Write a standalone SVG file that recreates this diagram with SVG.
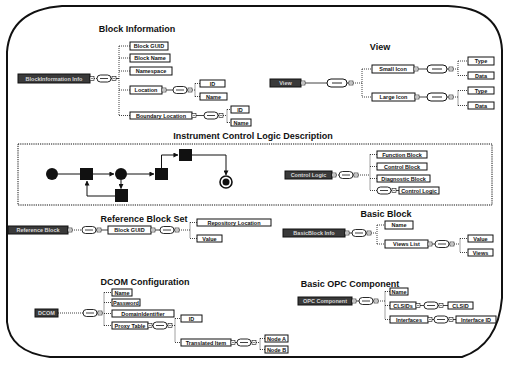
<svg xmlns="http://www.w3.org/2000/svg" xmlns:xlink="http://www.w3.org/1999/xlink" width="505" height="368" viewBox="0 0 505 368">
<style>
.bx{fill:#fff;stroke:#111;stroke-width:1}
.rb{fill:#3a3a3a;stroke:#111;stroke-width:1}
.t{font-family:"Liberation Sans",Arial,sans-serif;font-weight:bold;font-size:5.5px;text-anchor:middle;fill:#111}
.rt{font-family:"Liberation Sans",Arial,sans-serif;font-weight:bold;font-size:5.5px;text-anchor:middle;fill:#d8d8d8}
.h{font-family:"Liberation Sans",Arial,sans-serif;font-weight:bold;font-size:9px;text-anchor:middle;fill:#111}
.c{stroke:#111;stroke-width:.8;fill:none}
.d{stroke:#111;stroke-width:.8;fill:none;stroke-dasharray:1 1}
.fl{stroke:#111;stroke-width:1;fill:none}
.n{fill:#111}
</style>
<defs>
<marker id="ar" viewBox="0 0 6 6" refX="5.5" refY="3" markerWidth="5" markerHeight="5" orient="auto">
<path d="M0 0 L6 3 L0 6 Z" fill="#111"/>
</marker>
<g id="seq">
<rect x="-7" y="-3.5" width="14" height="7" rx="3.5" fill="#fff" stroke="#111" stroke-width=".9"/>
<line x1="-4" y1="0" x2="4" y2="0" stroke="#111" stroke-width=".8"/>
<line x1="7" y1="0" x2="8" y2="0" stroke="#111" stroke-width=".8"/>
<rect x="8" y="-2" width="4" height="4" fill="#fff" stroke="#111" stroke-width=".6"/>
<line x1="9" y1="0" x2="11" y2="0" stroke="#111" stroke-width=".5"/>
</g>
<g id="seqL">
<rect x="-10" y="-4" width="20" height="8" rx="4" fill="#fff" stroke="#111" stroke-width="1"/>
<line x1="-5" y1="0" x2="5" y2="0" stroke="#111" stroke-width=".9"/>
<line x1="10" y1="0" x2="12" y2="0" stroke="#111" stroke-width=".8"/>
<rect x="12" y="-2" width="4" height="4" fill="#fff" stroke="#111" stroke-width=".6"/>
<line x1="13" y1="0" x2="15" y2="0" stroke="#111" stroke-width=".5"/>
</g>
<g id="ex">
<rect x="0" y="-2" width="4" height="4" fill="#fff" stroke="#111" stroke-width=".6"/>
<line x1="1" y1="0" x2="3" y2="0" stroke="#111" stroke-width=".5"/>
</g>
</defs>

<rect width="505" height="368" fill="#fff"/>
<path d="M62 6 L448 6 Q500 8 502 50 L502 298 Q498 345 462 357 L50 357 Q10 352 7 322 L7 52 Q10 10 62 6 Z" fill="none" stroke="#111" stroke-width="2"/>

<g id="connectors">
<line class="d" x1="94" y1="78.5" x2="97" y2="78.5"/>
<line class="c" x1="116" y1="78.5" x2="119" y2="78.5"/>
<path class="d" d="M119 46 V115.5 M119 46 H130 M119 58 H130 M119 71 H130 M119 90 H130 M119 115.5 H130"/>
<line class="c" x1="166" y1="90" x2="173" y2="90"/>
<path class="d" d="M192 90 H195 M195 83.5 V96.5 M195 83.5 H200 M195 96.5 H200"/>
<line class="c" x1="196" y1="115.5" x2="204" y2="115.5"/>
<path class="d" d="M223 115.5 H227 M227 109.5 V122.5 M227 109.5 H231 M227 122.5 H231"/>
<line class="c" x1="305" y1="83" x2="327" y2="83"/>
<path class="d" d="M353 83 H362 M362 69 V97 M362 69 H372 M362 97 H372"/>
<line class="c" x1="418" y1="69" x2="427" y2="69"/>
<path class="d" d="M453 69 H458 M458 61 V75.5 M458 61 H468 M458 75.5 H468"/>
<line class="c" x1="419" y1="97" x2="427" y2="97"/>
<path class="d" d="M453 97 H458 M458 90.5 V105.5 M458 90.5 H468 M458 105.5 H468"/>
<line class="fl" x1="58" y1="174" x2="80" y2="174"/>
<line class="fl" x1="93" y1="174" x2="114" y2="174" marker-end="url(#ar)"/>
<line class="fl" x1="127" y1="174" x2="154" y2="174" marker-end="url(#ar)"/>
<line class="fl" x1="121" y1="180" x2="121" y2="188.5" marker-end="url(#ar)"/>
<polyline class="fl" points="115,196 87,196 87,181" marker-end="url(#ar)"/>
<polyline class="fl" points="161.5,168 161.5,155 178,155" marker-end="url(#ar)"/>
<polyline class="fl" points="192,155 226,155 226,175" marker-end="url(#ar)"/>
<line class="d" x1="336" y1="175" x2="339" y2="175"/>
<path class="d" d="M358 175 H370 M370 154.5 V190.5 M370 154.5 H377 M370 166.5 H377 M370 178.5 H377 M370 190.5 H377"/>
<line class="c" x1="396" y1="190.5" x2="399" y2="190.5"/>
<line class="d" x1="72" y1="230" x2="82" y2="230"/>
<line class="c" x1="101" y1="230" x2="108" y2="230"/>
<line class="c" x1="155" y1="230" x2="160" y2="230"/>
<path class="d" d="M179 230 H190 M190 222.5 V238.5 M190 222.5 H197 M190 238.5 H197"/>
<line class="c" x1="349" y1="233" x2="352" y2="233"/>
<path class="d" d="M371 233 H377 M377 225 V244 M377 225 H385 M377 244 H385"/>
<line class="c" x1="432" y1="244" x2="435" y2="244"/>
<path class="d" d="M454 244 H460 M460 238.5 V252.5 M460 238.5 H468 M460 252.5 H468"/>
<line class="d" x1="58" y1="313" x2="83" y2="313"/>
<path class="d" d="M102 313 H104 M104 292.5 V325.5 M104 292.5 H112 M104 302.5 H112 M104 313.5 H112 M104 325.5 H112"/>
<line class="c" x1="152" y1="325.5" x2="153" y2="325.5"/>
<path class="d" d="M172 325.5 H175 M175 318.5 V342.5 M175 318.5 H181 M175 342.5 H181"/>
<line class="c" x1="235" y1="342.5" x2="237" y2="342.5"/>
<path class="d" d="M256 342.5 H260 M260 338.5 V349.5 M260 338.5 H265 M260 349.5 H265"/>
<line class="c" x1="356" y1="301" x2="359" y2="301"/>
<path class="d" d="M378 301 H385 M385 291.5 V319.5 M385 291.5 H390 M385 305.5 H390 M385 319.5 H390"/>
<line class="c" x1="420" y1="305.5" x2="424" y2="305.5"/>
<line class="c" x1="443" y1="305.5" x2="448" y2="305.5"/>
<line class="c" x1="432" y1="319.5" x2="434" y2="319.5"/>
<line class="c" x1="453" y1="319.5" x2="456" y2="319.5"/>
</g>

<g id="block-information">
<text class="h" x="137" y="32">Block Information</text>
<g id="bi-root"><rect class="rb" x="18" y="74" width="72" height="9"/><text class="rt" x="54" y="80.5">BlockInformation Info</text><use xlink:href="#ex" x="90" y="78.5"/></g>
<use xlink:href="#seq" x="104" y="78.5"/>
<g id="bi-guid"><rect class="bx" x="130" y="42" width="38" height="8"/><text class="t" x="149" y="48">Block GUID</text></g>
<g id="bi-name"><rect class="bx" x="130" y="54" width="40" height="8"/><text class="t" x="150" y="60">Block Name</text></g>
<g id="bi-ns"><rect class="bx" x="130" y="67" width="42" height="8"/><text class="t" x="151" y="73">Namespace</text></g>
<g id="bi-loc"><rect class="bx" x="130" y="86" width="32" height="8"/><text class="t" x="146" y="92">Location</text><use xlink:href="#ex" x="162" y="90"/></g>
<use xlink:href="#seq" x="180" y="90"/>
<g id="bi-loc-id"><rect class="bx" x="200" y="80" width="25" height="7"/><text class="t" x="212.5" y="85.5">ID</text></g>
<g id="bi-loc-name"><rect class="bx" x="200" y="93" width="27" height="7"/><text class="t" x="213.5" y="98.5">Name</text></g>
<g id="bi-bloc"><rect class="bx" x="130" y="112" width="62" height="7"/><text class="t" x="161" y="117.5">Boundary Location</text><use xlink:href="#ex" x="192" y="115.5"/></g>
<use xlink:href="#seq" x="211" y="115.5"/>
<g id="bi-bloc-id"><rect class="bx" x="231" y="106" width="18" height="7"/><text class="t" x="240" y="111.5">ID</text></g>
<g id="bi-bloc-name"><rect class="bx" x="231" y="119" width="20" height="7"/><text class="t" x="241" y="124.5">Name</text></g>
</g>

<g id="view">
<text class="h" x="380" y="50">View</text>
<g id="view-root"><rect class="rb" x="270" y="79" width="31" height="8"/><text class="rt" x="285.5" y="85">View</text><use xlink:href="#ex" x="301" y="83"/></g>
<use xlink:href="#seqL" x="337" y="83"/>
<g id="small-icon"><rect class="bx" x="372" y="65" width="42" height="8"/><text class="t" x="393" y="71">Small Icon</text><use xlink:href="#ex" x="414" y="69"/></g>
<use xlink:href="#seqL" x="437" y="69"/>
<g id="si-type"><rect class="bx" x="468" y="57" width="26" height="8"/><text class="t" x="481" y="63">Type</text></g>
<g id="si-data"><rect class="bx" x="468" y="72" width="26" height="7"/><text class="t" x="481" y="77.5">Data</text></g>
<g id="large-icon"><rect class="bx" x="372" y="93" width="43" height="8"/><text class="t" x="393.5" y="99">Large Icon</text><use xlink:href="#ex" x="415" y="97"/></g>
<use xlink:href="#seqL" x="437" y="97"/>
<g id="li-type"><rect class="bx" x="468" y="87" width="26" height="7"/><text class="t" x="481" y="92.5">Type</text></g>
<g id="li-data"><rect class="bx" x="468" y="102" width="26" height="7"/><text class="t" x="481" y="107.5">Data</text></g>
</g>

<g id="icld">
<text class="h" x="253" y="139">Instrument Control Logic Description</text>
<rect x="18" y="144" width="474" height="61" fill="none" stroke="#111" stroke-width="1" stroke-dasharray="1.2 1"/>
<g id="f-start"><circle cx="52" cy="174" r="6" class="n"/></g>
<g id="f-sq1"><rect x="80" y="168" width="13" height="12" class="n"/></g>
<g id="f-join"><circle cx="121" cy="174" r="6" class="n"/></g>
<g id="f-sq3"><rect x="115" y="189" width="13" height="13" class="n"/></g>
<g id="f-sq4"><rect x="155" y="168" width="13" height="12" class="n"/></g>
<g id="f-sq5"><rect x="179" y="149" width="13" height="12" class="n"/></g>
<g id="f-end"><circle cx="226" cy="182" r="6" fill="#fff" stroke="#111" stroke-width="1.6"/><circle cx="226" cy="182" r="3.5" class="n"/></g>
<g id="cl-root"><rect class="rb" x="285" y="171" width="47" height="8"/><text class="rt" x="308.5" y="177">Control Logic</text><use xlink:href="#ex" x="332" y="175"/></g>
<use xlink:href="#seq" x="346" y="175"/>
<g id="cl-fb"><rect class="bx" x="377" y="151" width="50" height="7"/><text class="t" x="402" y="156.5">Function Block</text></g>
<g id="cl-cb"><rect class="bx" x="377" y="163" width="50" height="7"/><text class="t" x="402" y="168.5">Control Block</text></g>
<g id="cl-db"><rect class="bx" x="377" y="175" width="53" height="7"/><text class="t" x="403.5" y="180.5">Diagnostic Block</text></g>
<use xlink:href="#seq" x="384" y="190.5"/>
<g id="cl-cl"><rect class="bx" x="399" y="187" width="40" height="7"/><text class="t" x="419" y="192.5">Control Logic</text></g>
</g>

<g id="reference-block-set">
<text class="h" x="144" y="222">Reference Block Set</text>
<g id="rb-root"><rect class="rb" x="8" y="226" width="60" height="8"/><text class="rt" x="38" y="232">Reference Block</text><use xlink:href="#ex" x="68" y="230"/></g>
<use xlink:href="#seq" x="89" y="230"/>
<g id="rb-guid"><rect class="bx" x="108" y="226" width="43" height="8"/><text class="t" x="129.5" y="232">Block GUID</text><use xlink:href="#ex" x="151" y="230"/></g>
<use xlink:href="#seq" x="167" y="230"/>
<g id="rb-repo"><rect class="bx" x="197" y="219" width="74" height="7"/><text class="t" x="234" y="224.5">Repository Location</text></g>
<g id="rb-value"><rect class="bx" x="197" y="235" width="25" height="7"/><text class="t" x="209.5" y="240.5">Value</text></g>
</g>

<g id="basic-block">
<text class="h" x="386" y="217">Basic Block</text>
<g id="bb-root"><rect class="rb" x="283" y="229" width="62" height="8"/><text class="rt" x="314" y="235">BasicBlock Info</text><use xlink:href="#ex" x="345" y="233"/></g>
<use xlink:href="#seq" x="359" y="233"/>
<g id="bb-name"><rect class="bx" x="385" y="221" width="28" height="8"/><text class="t" x="399" y="227">Name</text></g>
<g id="bb-views"><rect class="bx" x="385" y="240" width="43" height="8"/><text class="t" x="406.5" y="246">Views List</text><use xlink:href="#ex" x="428" y="244"/></g>
<use xlink:href="#seq" x="442" y="244"/>
<g id="bb-value"><rect class="bx" x="468" y="235" width="25" height="7"/><text class="t" x="480.5" y="240.5">Value</text></g>
<g id="bb-vw"><rect class="bx" x="468" y="249" width="25" height="7"/><text class="t" x="480.5" y="254.5">Views</text></g>
</g>

<g id="dcom-configuration">
<text class="h" x="145" y="285">DCOM Configuration</text>
<g id="dc-root"><rect class="rb" x="35" y="309" width="23" height="8"/><text class="rt" x="46.5" y="315">DCOM</text></g>
<use xlink:href="#seq" x="90" y="313"/>
<g id="dc-name"><rect class="bx" x="112" y="289" width="20" height="7"/><text class="t" x="122" y="294.5">Name</text></g>
<g id="dc-pw"><rect class="bx" x="112" y="299" width="28" height="7"/><text class="t" x="126" y="304.5">Password</text></g>
<g id="dc-dom"><rect class="bx" x="112" y="310" width="62" height="7"/><text class="t" x="143" y="315.5">DomainIdentifier</text></g>
<g id="dc-proxy"><rect class="bx" x="112" y="322" width="36" height="7"/><text class="t" x="130" y="327.5">Proxy Table</text><use xlink:href="#ex" x="148" y="325.5"/></g>
<use xlink:href="#seq" x="160" y="325.5"/>
<g id="dc-id"><rect class="bx" x="181" y="315" width="21" height="7"/><text class="t" x="191.5" y="320.5">ID</text></g>
<g id="dc-ti"><rect class="bx" x="181" y="339" width="50" height="7"/><text class="t" x="206" y="344.5">Translated Item</text><use xlink:href="#ex" x="231" y="342.5"/></g>
<use xlink:href="#seq" x="244" y="342.5"/>
<g id="dc-na"><rect class="bx" x="265" y="335" width="23" height="7"/><text class="t" x="276.5" y="340.5">Node A</text></g>
<g id="dc-nb"><rect class="bx" x="265" y="346" width="23" height="7"/><text class="t" x="276.5" y="351.5">Node B</text></g>
</g>

<g id="basic-opc-component">
<text class="h" x="350" y="287">Basic OPC Component</text>
<g id="opc-root"><rect class="rb" x="298" y="297" width="54" height="8"/><text class="rt" x="325" y="303">OPC Component</text><use xlink:href="#ex" x="352" y="301"/></g>
<use xlink:href="#seq" x="366" y="301"/>
<g id="opc-name"><rect class="bx" x="390" y="288" width="18" height="7"/><text class="t" x="399" y="293.5">Name</text></g>
<g id="opc-clsids"><rect class="bx" x="390" y="302" width="26" height="7"/><text class="t" x="403" y="307.5">CLSIDs</text><use xlink:href="#ex" x="416" y="305.5"/></g>
<use xlink:href="#seq" x="431" y="305.5"/>
<g id="opc-clsid"><rect class="bx" x="448" y="302" width="25" height="7"/><text class="t" x="460.5" y="307.5">CLSID</text></g>
<g id="opc-if"><rect class="bx" x="390" y="316" width="38" height="7"/><text class="t" x="409" y="321.5">Interfaces</text><use xlink:href="#ex" x="428" y="319.5"/></g>
<use xlink:href="#seq" x="441" y="319.5"/>
<g id="opc-ifid"><rect class="bx" x="456" y="316" width="40" height="7"/><text class="t" x="476" y="321.5">Interface ID</text></g>
</g>
</svg>
